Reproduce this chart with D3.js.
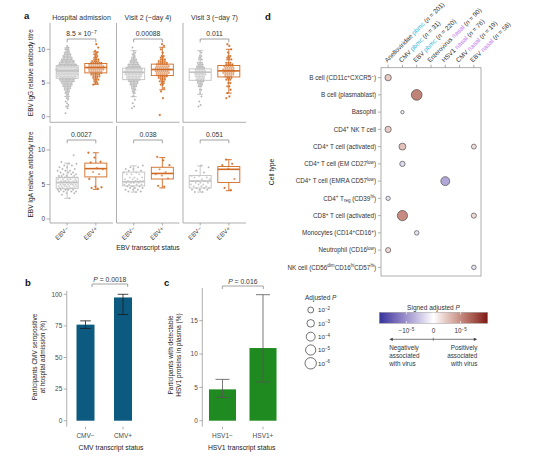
<!DOCTYPE html>
<html>
<head>
<meta charset="utf-8">
<title>Virus association figure</title>
<script src="https://cdn.jsdelivr.net/npm/d3@7"></script>
<style>
body { margin: 0; background: #fff; }
text { font-family: "Liberation Sans", Arial, Helvetica, sans-serif; }
</style>
</head>
<body>
<svg id="fig" width="554" height="456"></svg>
<script>
// ---- panel a data ----
var visits = ["Hospital admission", "Visit 2 (~day 4)", "Visit 3 (~day 7)"];
var ebvGroups = ["EBV\u2212", "EBV+"];
var iggP = ["8.5 \u00d7 10^{\u22127}", "0.00088", "0.011"];
var igaP = ["0.0027", "0.038", "0.051"];

// box stats: [lower whisker, q1, median, q3, upper whisker], per visit: [EBV-, EBV+]
var iggBox = [
  [[3.0, 5.7, 6.8, 7.6, 10.2], [4.8, 6.5, 7.3, 7.9, 9.6]],
  [[3.0, 5.5, 6.6, 7.2, 9.8], [4.0, 6.1, 7.0, 7.8, 10.3]],
  [[3.3, 5.4, 6.6, 7.1, 9.8], [3.5, 5.9, 6.8, 7.6, 10.0]]
];
var igaBox = [
  [[3.0, 4.4, 5.3, 6.0, 8.1], [4.3, 6.1, 7.3, 8.1, 9.6]],
  [[3.9, 4.8, 5.4, 6.8, 7.7], [4.5, 5.8, 6.6, 7.5, 8.9]],
  [[3.9, 4.5, 5.5, 6.3, 7.7], [4.1, 5.3, 7.2, 7.6, 8.6]]
];

var iggAdmNeg = [[0.5,1],[1.25,1],[1.5,2],[1.75,1],[2.0,1],[2.25,1],[2.5,1],[2.75,2],[3.0,2],[3.25,2],[3.5,3],[3.75,3],[4.0,4],[4.25,5],[4.5,6],[4.75,7],[5.0,8],[5.25,10],[5.5,11],[5.75,12],[6.0,14],[6.25,15],[6.5,15],[6.75,16],[7.0,16],[7.25,15],[7.5,14],[7.75,13],[8.0,11],[8.25,10],[8.5,8],[8.75,7],[9.0,6],[9.25,5],[9.5,4],[9.75,3],[10.0,3],[10.25,2],[10.5,1]];
var iggAdmPos = [[4.75,1],[5.0,2],[5.25,2],[5.5,3],[5.75,3],[6.0,4],[6.25,5],[6.5,6],[6.75,7],[7.0,8],[7.25,8],[7.5,8],[7.75,7],[8.0,6],[8.25,4],[8.5,3],[8.75,2],[9.0,2],[9.25,2],[9.5,1],[9.75,1],[10.25,1],[10.75,1]];
var iggV2Neg = [[1.25,1],[1.5,1],[2.0,1],[2.5,1],[3.0,2],[3.5,2],[3.75,2],[4.0,3],[4.25,3],[4.5,4],[4.75,5],[5.0,6],[5.25,7],[5.5,9],[5.75,10],[6.0,11],[6.25,12],[6.5,13],[6.75,13],[7.0,12],[7.25,11],[7.5,9],[7.75,8],[8.0,6],[8.25,5],[8.5,4],[8.75,3],[9.0,2],[9.25,2],[9.5,1],[9.75,1],[10.25,1]];
var iggV2Pos = [[0.25,1],[2.75,1],[3.75,1],[4.25,1],[4.75,2],[5.0,2],[5.25,3],[5.5,3],[5.75,4],[6.0,5],[6.25,6],[6.5,7],[6.75,7],[7.0,8],[7.25,7],[7.5,7],[7.75,6],[8.0,5],[8.25,4],[8.5,3],[8.75,2],[9.0,2],[9.5,1],[10.0,1],[10.5,1],[10.75,1]];
var iggV3Neg = [[1.5,1],[1.75,1],[2.25,1],[3.0,1],[3.5,1],[4.0,2],[4.5,3],[4.75,3],[5.0,4],[5.25,5],[5.5,6],[5.75,6],[6.0,7],[6.25,8],[6.5,8],[6.75,8],[7.0,7],[7.25,6],[7.5,5],[7.75,4],[8.0,4],[8.5,3],[8.75,2],[9.0,2],[9.5,1],[9.75,1]];
var iggV3Pos = [[2.75,1],[3.0,1],[3.5,1],[4.0,1],[4.5,2],[5.0,2],[5.5,3],[5.75,3],[6.0,4],[6.25,5],[6.5,6],[6.75,6],[7.0,6],[7.25,5],[7.5,5],[7.75,4],[8.0,3],[8.5,3],[8.75,2],[9.0,2],[9.5,1],[10.0,1],[10.5,1],[10.75,1]];

var igaAdmNeg = [[3.0,1],[3.5,1],[3.75,2],[4.0,4],[4.25,5],[4.5,6],[4.75,7],[5.0,7],[5.25,7],[5.5,6],[5.75,5],[6.0,5],[6.25,4],[6.5,3],[6.75,3],[7.0,3],[7.25,2],[7.5,2],[7.75,2],[8.0,2],[8.25,1],[9.25,1]];
var igaAdmPos = [[4.4,1],[4.5,1],[4.6,1],[4.7,1],[5.8,1],[6.5,1],[6.8,1],[7.2,1],[7.4,1],[8.2,1],[8.3,1],[8.9,1],[9.6,1]];
var igaV2Neg = [[3.9,1],[4.0,2],[4.25,3],[4.5,3],[4.75,3],[5.0,4],[5.25,4],[5.5,4],[5.75,3],[6.0,3],[6.5,3],[6.75,2],[7.0,2],[7.25,2],[7.5,2],[7.75,1]];
var igaV2Pos = [[4.7,1],[4.8,1],[5.9,1],[6.3,1],[6.5,1],[6.8,1],[7.2,1],[7.8,1],[8.5,1],[9.0,1]];
var igaV3Neg = [[3.9,2],[4.25,3],[4.5,3],[4.75,3],[5.0,3],[5.25,3],[5.5,3],[5.75,2],[6.0,2],[6.25,2],[6.75,1],[7.0,1],[7.5,1],[7.75,1]];
var igaV3Pos = [[4.2,1],[4.5,1],[5.8,1],[7.3,1],[7.8,1],[8.0,1],[8.6,1]];

// ---- panel b / c data ----
var cmvGroups = ["CMV\u2212", "CMV+"];
var cmvPct = [76, 97.5];
var cmvLo = [73, 84];
var cmvHi = [79, 100];
var hsvGroups = ["HSV1\u2212", "HSV1+"];
var hsvPct = [4.7, 10.9];
var hsvLo = [3.5, 5.8];
var hsvHi = [6.2, 18.9];

// ---- panel d data ----
var cellTypes = [
  "B cell (CD11c^{+}CXCR5^{\u2212})",
  "B cell (plasmablast)",
  "Basophil",
  "CD4^{+} NK T cell",
  "CD4^{+} T cell (activated)",
  "CD4^{+} T cell (EM CD27^{low})",
  "CD4^{+} T cell (EMRA CD57^{low})",
  "CD4^{+} T_{reg} (CD39^{hi})",
  "CD8^{+} T cell (activated)",
  "Monocytes (CD14^{+}CD16^{+})",
  "Neutrophil (CD16^{low})",
  "NK cell (CD56^{dim}CD16^{hi}CD57^{hi})"
];
var virusNames = ["Anelloviridae", "CMV", "EBV", "Enterovirus", "HSV1", "CMV", "EBV"];
var virusTissue = ["pbmc", "pbmc", "pbmc", "nasal", "nasal", "nasal", "nasal"];
var virusN = [201, 31, 220, 90, 76, 19, 58];
// one entry per dot: cell type index, virus column index, signed -log10 adjusted P
var assocCell = [0, 1, 2, 3, 4, 4, 5, 6, 7, 8, 8, 9, 10, 11];
var assocVirus = [0, 2, 1, 0, 1, 6, 1, 4, 0, 1, 6, 2, 0, 6];
var assocSignedLogP = [2.3, 5.4, -0.8, 2.2, 2.6, 1.5, -1.7, -4.0, -1.2, 5.0, 1.6, -1.3, 1.6, -1.3];
var sizeLegend = [2, 3, 4, 5, 6];
var colourTicks = [-5, 0, 5];
var colourTickLabels = ["\u221210^{\u22125}", "0", "10^{\u22125}"];

// ---------------------------------------------------------------
var svg = d3.select("#fig");
var axisCol = "#9a9a9a", tickTxt = "#4a4a4a", txt = "#222";
var grey = "#ababab", orange = "#d06a22";

// text with ^{sup}, _{sub} and *italic* pieces
function rich(t, str) {
  var cur = 0;
  str.split(/(\^\{[^}]*\}|_\{[^}]*\}|\*[^*]+\*)/).forEach(function(p) {
    if (!p) return;
    var off = 0, small = false, ital = false, s = p;
    if (p.slice(0, 2) === "^{") { off = -2.3; small = true; s = p.slice(2, -1); }
    else if (p.slice(0, 2) === "_{") { off = 1.4; small = true; s = p.slice(2, -1); }
    else if (p[0] === "*") { ital = true; s = p.slice(1, -1); }
    var ts = t.append("tspan").text(s).attr("dy", off - cur);
    cur = off;
    if (small) ts.attr("font-size", "0.72em");
    if (ital) ts.attr("font-style", "italic");
  });
  return t;
}
function label(x, y, str, size, anchor, col) {
  var t = svg.append("text").attr("x", x).attr("y", y)
    .attr("font-size", size).attr("text-anchor", anchor || "start").attr("fill", col || txt);
  return rich(t, str);
}
function line(g, x1, y1, x2, y2, col, w) {
  return g.append("line").attr("x1", x1).attr("y1", y1).attr("x2", x2).attr("y2", y2)
    .attr("stroke", col).attr("stroke-width", w || 0.8);
}
function swarm(bins, sp) {
  var out = [];
  bins.forEach(function(b, k) {
    var n = b[1];
    for (var i = 0; i < n; i++) {
      var dx = (i - (n - 1) / 2) * sp + (k % 2 ? sp * 0.25 : -sp * 0.25);
      if (n === 1) dx = ((k * 0.618) % 1 - 0.5) * sp * 2.5;
      out.push({ v: b[0], dx: dx });
    }
  });
  return out;
}
function jitter(bins, w) {
  var out = [], j = 0;
  bins.forEach(function(b) {
    for (var i = 0; i < b[1]; i++) { j++; out.push({ v: b[0], dx: ((j * 0.6180339) % 1 - 0.5) * w }); }
  });
  return out;
}

// panel letters
[["a", 24, 19], ["b", 25, 286], ["c", 164, 286], ["d", 265, 20]].forEach(function(l) {
  svg.append("text").attr("x", l[1]).attr("y", l[2]).attr("font-size", 9.5)
    .attr("font-weight", "bold").attr("fill", "#111").text(l[0]);
});

// ================= panel a =================
var facetX0 = [50, 116.5, 183], facetW = 63;
var xIn = d3.scalePoint().domain(ebvGroups).range([0, facetW]).padding(0.6);
var aRows = [
  { top: 23, bottom: 122.3, y: d3.scaleLinear().domain([0, 10]).range([116.7, 49.3]),
    box: iggBox, pts: [[iggAdmNeg, iggAdmPos], [iggV2Neg, iggV2Pos], [iggV3Neg, iggV3Pos]],
    p: iggP, pY: 39, title: "EBV IgG relative antibody titre", swarm: true },
  { top: 126, bottom: 223, y: d3.scaleLinear().domain([0, 10]).range([219, 150]),
    box: igaBox, pts: [[igaAdmNeg, igaAdmPos], [igaV2Neg, igaV2Pos], [igaV3Neg, igaV3Pos]],
    p: igaP, pY: 140, title: "EBV IgA relative antibody titre", swarm: false }
];

visits.forEach(function(v, i) {
  label(facetX0[i] + facetW / 2, 20, v, 7, "middle", "#333");
});

aRows.forEach(function(row, r) {
  var y = row.y;
  visits.forEach(function(v, i) {
    var g = svg.append("g").attr("transform", "translate(" + facetX0[i] + ",0)");
    line(g, 0, row.top, 0, row.bottom, axisCol);
    line(g, 0, row.bottom, facetW, row.bottom, axisCol);
    ebvGroups.forEach(function(grp, k) {
      var cx = xIn(grp), col = k ? orange : grey;
      var pts = row.swarm ? swarm(row.pts[i][k], k ? 2.0 : 1.4) : jitter(row.pts[i][k], k ? 16 : 20);
      g.selectAll(null).data(pts).enter().append("circle")
        .attr("cx", function(d) { return cx + d.dx; })
        .attr("cy", function(d) { return y(d.v); })
        .attr("r", k ? 1.15 : 1.0)
        .attr("fill", col).attr("stroke", "#fff").attr("stroke-width", 0.25);
      var s = row.box[i][k], bw = 22, bc = k ? orange : "#c2c2c2";
      line(g, cx, y(s[0]), cx, y(s[1]), bc, 0.9);
      line(g, cx, y(s[3]), cx, y(s[4]), bc, 0.9);
      line(g, cx - 3, y(s[0]), cx + 3, y(s[0]), bc, 0.9);
      line(g, cx - 3, y(s[4]), cx + 3, y(s[4]), bc, 0.9);
      g.append("rect").attr("x", cx - bw / 2).attr("y", y(s[3]))
        .attr("width", bw).attr("height", y(s[1]) - y(s[3]))
        .attr("fill", "#fff").attr("fill-opacity", 0.3).attr("stroke", bc).attr("stroke-width", 0.9);
      line(g, cx - bw / 2, y(s[2]), cx + bw / 2, y(s[2]), bc, 1.6);
      if (r === 1) {
        line(g, cx, row.bottom, cx, row.bottom + 2.5, axisCol);
        g.append("text").attr("font-size", 6.3).attr("fill", tickTxt).attr("text-anchor", "end")
          .attr("transform", "translate(" + (cx + 2) + "," + (row.bottom + 6) + ") rotate(-45)")
          .text(grp);
      }
    });
    // significance bracket
    var x1 = xIn(ebvGroups[0]), x2 = xIn(ebvGroups[1]);
    g.append("path").attr("fill", "none").attr("stroke", "#8a8a8a").attr("stroke-width", 0.8)
      .attr("d", "M" + x1 + "," + (row.pY + 3.3) + "V" + row.pY + "H" + x2 + "V" + (row.pY + 3.3));
    rich(g.append("text").attr("x", (x1 + x2) / 2).attr("y", row.pY - 3.2)
      .attr("font-size", 6.8).attr("text-anchor", "middle").attr("fill", "#333"), row.p[i]);
  });
  // y axis of first facet
  [0, 5, 10].forEach(function(t) {
    line(svg, 46.5, y(t), 50, y(t), axisCol);
    svg.append("text").attr("x", 45).attr("y", y(t) + 2.3).attr("font-size", 6.5)
      .attr("text-anchor", "end").attr("fill", tickTxt).text(t);
  });
  svg.append("text").attr("font-size", 6.5).attr("fill", txt).attr("text-anchor", "middle")
    .attr("transform", "translate(33," + ((row.top + row.bottom) / 2) + ") rotate(-90)")
    .text(row.title);
});
label(148, 250, "EBV transcript status", 6.8, "middle");

// ================= panels b and c =================
function barPanel(o) {
  var x = d3.scaleBand().domain(o.groups).range(o.xr).paddingInner(o.pi).paddingOuter(o.po);
  var y = d3.scaleLinear().domain([0, o.ymax]).range([420.7, o.yTop]);
  var axX = o.xr[0];
  line(svg, axX, o.axTop, axX, 426.7, axisCol);
  o.ticks.forEach(function(t) {
    line(svg, axX - 3, y(t), axX, y(t), axisCol);
    svg.append("text").attr("x", axX - 4.5).attr("y", y(t) + 2.3).attr("font-size", 6.5)
      .attr("text-anchor", "end").attr("fill", tickTxt).text(t);
  });
  svg.selectAll(null).data(o.groups).enter().append("rect")
    .attr("x", function(d) { return x(d); })
    .attr("y", function(d, i) { return y(o.vals[i]); })
    .attr("width", x.bandwidth())
    .attr("height", function(d, i) { return y(0) - y(o.vals[i]); })
    .attr("fill", o.fill);
  o.groups.forEach(function(gname, i) {
    var cx = x(gname) + x.bandwidth() / 2;
    line(svg, cx, y(o.lo[i]), cx, y(o.hi[i]), o.errCol, 0.8);
    line(svg, cx - o.cap, y(o.lo[i]), cx + o.cap, y(o.lo[i]), o.errCol, 0.8);
    line(svg, cx - o.cap, y(o.hi[i]), cx + o.cap, y(o.hi[i]), o.errCol, 0.8);
    line(svg, cx, 426.7, cx, 429.2, axisCol);
    svg.append("text").attr("x", cx).attr("y", 437.5).attr("font-size", 6.5)
      .attr("text-anchor", "middle").attr("fill", tickTxt).text(gname);
  });
  svg.append("path").attr("fill", "none").attr("stroke", "#8a8a8a").attr("stroke-width", 0.8)
    .attr("d", "M" + o.br[0] + "," + (o.brY + 3) + "V" + o.brY + "H" + o.br[1] + "V" + (o.brY + 3));
  label((o.br[0] + o.br[1]) / 2, o.brY - 2, o.p, 6.8, "middle", "#333");
  label(o.titleX, 450, o.xTitle, 6.8, "middle");
  o.yTitle.forEach(function(s, k) {
    svg.append("text").attr("font-size", 6.5).attr("fill", txt).attr("text-anchor", "middle")
      .attr("transform", "translate(" + (o.yTitleX + k * 8) + "," + o.yTitleY + ") rotate(-90)")
      .text(s);
  });
}

barPanel({ groups: cmvGroups, vals: cmvPct, lo: cmvLo, hi: cmvHi, xr: [66.75, 141.75], pi: 0.52, po: 0.26,
  ymax: 100, yTop: 294.3, axTop: 290.7, ticks: [0, 25, 50, 75, 100], fill: "#0c5a80", errCol: "#1a1a1a", cap: 5.3,
  br: [92, 127.7], brY: 284, p: "*P* = 0.0018", xTitle: "CMV transcript status", titleX: 111,
  yTitle: ["Participants CMV seropositive", "at hospital admission (%)"], yTitleX: 37, yTitleY: 357 });

barPanel({ groups: hsvGroups, vals: hsvPct, lo: hsvLo, hi: hsvHi, xr: [202.3, 283.2], pi: 0.333, po: 0.165,
  ymax: 15, yTop: 320.7, axTop: 288, ticks: [0, 5, 10, 15], fill: "#1f8a1f", errCol: "#555", cap: 7,
  br: [222.3, 263.3], brY: 286, p: "*P* = 0.016", xTitle: "HSV1 transcript status", titleX: 241.7,
  yTitle: ["Participants with detectable", "HSV1 proteins in plasma (%)"], yTitleX: 173, yTitleY: 355 });

// ================= panel d =================
var dLeft = 381, dRight = 481, dTop = 67.7, dBottom = 276;
var xd = d3.scalePoint().domain(d3.range(virusNames.length)).range([dLeft, dRight]).padding(0.5);
var yd = d3.scalePoint().domain(d3.range(cellTypes.length)).range([69, dBottom]).padding(0.5);
var rScale = d3.scalePow().exponent(0.6).domain([0, 6]).range([0, 5.7]);
var cScale = d3.scaleLinear().domain([-10, 0, 10]).range(["#34329a", "#ffffff", "#7e1616"])
  .interpolate(d3.interpolateLab);

svg.append("rect").attr("x", dLeft).attr("y", dTop).attr("width", dRight - dLeft)
  .attr("height", dBottom - dTop).attr("fill", "none").attr("stroke", "#9a9a9a").attr("stroke-width", 0.8);

cellTypes.forEach(function(c, i) {
  line(svg, dLeft - 3, yd(i), dLeft, yd(i), axisCol);
  label(376, yd(i) + 2.2, c, 6.3, "end", "#333");
});
var tissueCol = { pbmc: "#3cb4dc", nasal: "#c275ef" };
virusNames.forEach(function(v, j) {
  line(svg, xd(j), dTop - 3, xd(j), dTop, axisCol);
  var t = svg.append("text").attr("font-size", 6.4).attr("fill", "#333")
    .attr("transform", "translate(" + (xd(j) - 1) + "," + (dTop - 5) + ") rotate(-45)");
  t.append("tspan").text(v + " ");
  t.append("tspan").attr("fill", tissueCol[virusTissue[j]]).text(virusTissue[j]);
  t.append("tspan").text(" (");
  t.append("tspan").attr("font-style", "italic").text("n");
  t.append("tspan").text(" = " + virusN[j] + ")");
});
svg.append("text").attr("font-size", 6.8).attr("fill", txt).attr("text-anchor", "middle")
  .attr("transform", "translate(274,172) rotate(-90)").text("Cell type");

svg.selectAll(null).data(assocSignedLogP).enter().append("circle")
  .attr("cx", function(d, i) { return xd(assocVirus[i]); })
  .attr("cy", function(d, i) { return yd(assocCell[i]); })
  .attr("r", function(d) { return rScale(Math.abs(d)); })
  .attr("fill", function(d) { return cScale(d); })
  .attr("stroke", "#3a3a3a").attr("stroke-width", 0.6);

// size legend
label(305, 299.5, "Adjusted *P*", 6.5, "start", "#333");
var legY = d3.scalePoint().domain(sizeLegend).range([310, 363.3]);
sizeLegend.forEach(function(s) {
  svg.append("circle").attr("cx", 310.7).attr("cy", legY(s)).attr("r", rScale(s))
    .attr("fill", "#fff").attr("stroke", "#333").attr("stroke-width", 0.7);
  label(318, legY(s) + 2.2, "10^{\u2212" + s + "}", 6.2, "start", "#333");
});

// colour legend
var cbX = d3.scaleLinear().domain([-10, 10]).range([379.3, 487.7]);
var grad = svg.append("defs").append("linearGradient").attr("id", "cgrad");
d3.range(-10, 10.01, 2).forEach(function(v) {
  grad.append("stop").attr("offset", ((v + 10) / 20 * 100) + "%").attr("stop-color", cScale(v));
});
label(433.5, 309.8, "Signed adjusted *P*", 6.5, "middle", "#333");
svg.append("rect").attr("x", cbX(-10)).attr("y", 312.3).attr("width", cbX(10) - cbX(-10))
  .attr("height", 11).attr("fill", "url(#cgrad)").attr("stroke", "#999").attr("stroke-width", 0.5);
colourTicks.forEach(function(t, k) {
  line(svg, cbX(t), 312.3, cbX(t), 314.5, "#fff", 0.7);
  line(svg, cbX(t), 321.1, cbX(t), 323.3, "#fff", 0.7);
  label(cbX(t), 333, colourTickLabels[k], 6.3, "middle", "#333");
});
var arY = 339.3, ax1 = 389.3, ax2 = 477.3;
line(svg, ax1 + 2, arY, ax2 - 2, arY, "#444", 0.7);
line(svg, (ax1 + ax2) / 2, arY - 1.5, (ax1 + ax2) / 2, arY + 1.5, "#444", 0.6);
svg.append("path").attr("fill", "#444")
  .attr("d", "M" + ax1 + "," + arY + "l3.5,-1.6v3.2z M" + ax2 + "," + arY + "l-3.5,-1.6v3.2z");
["Negatively", "associated", "with virus"].forEach(function(s, k) {
  label(ax1, 350 + k * 7.8, s, 6.3, "start", "#333");
});
["Positively", "associated", "with virus"].forEach(function(s, k) {
  label(ax2, 350 + k * 7.8, s, 6.3, "end", "#333");
});
</script>
</body>
</html>
